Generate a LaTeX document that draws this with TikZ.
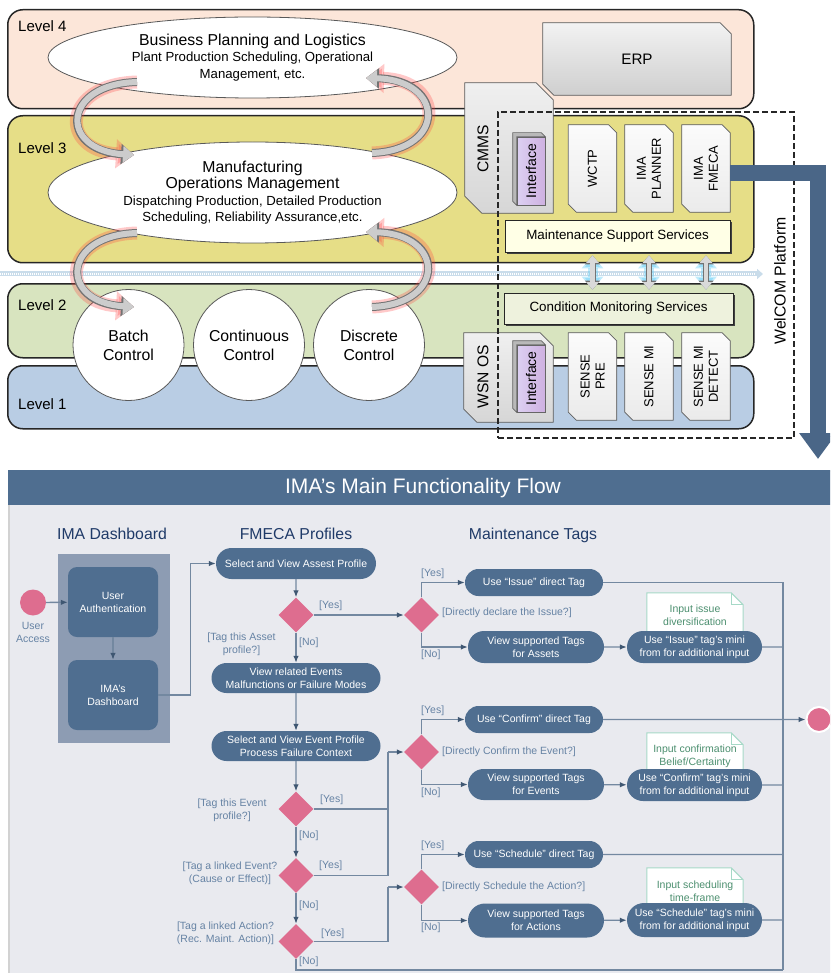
\documentclass[tikz,border=0pt]{standalone}
\usepackage{fontspec}
\setmainfont{Liberation Sans}
\usetikzlibrary{positioning}
\usetikzlibrary{arrows.meta}
\usetikzlibrary{shapes.geometric}
\usetikzlibrary{shapes.misc}
\usetikzlibrary{shadows}
\usetikzlibrary{calc}

\definecolor{lvfour}{HTML}{FCE6D9}
\definecolor{lvthree}{HTML}{E6DE87}
\definecolor{lvtwo}{HTML}{D8E4BF}
\definecolor{lvone}{HTML}{B9CDE4}
\definecolor{steel}{HTML}{4F6E90}
\definecolor{panelbg}{HTML}{E9EAEF}
\definecolor{lanebg}{HTML}{8D9CB3}
\definecolor{pinkish}{HTML}{DE6D8F}
\definecolor{flowline}{HTML}{7388A0}
\definecolor{flowtip}{HTML}{3F5772}
\definecolor{navy}{HTML}{1F3A68}
\definecolor{guardcol}{HTML}{6683A4}
\definecolor{notetxt}{HTML}{4C8F6F}
\definecolor{noteedge}{HTML}{A6D9C7}
\definecolor{platform}{HTML}{4A6687}
\definecolor{lavender}{HTML}{DCD0F2}
\definecolor{creamy}{HTML}{FFFFE6}
\definecolor{paleg}{HTML}{EEF2DD}
\definecolor{bandblue}{HTML}{C9DCEA}

\tikzset{x=1pt, y=-1pt,
    every node/.style={inner sep=0pt},
    levelbox/.style={
        draw=black!85,
        line width=1.5pt,
        rounded corners=15pt,
        anchor=north west},
    levellabel/.style={anchor=west, font=\fontsize{15}{18}\selectfont},
    layer/.style={
        ellipse,
        draw=black!65,
        line width=0.8pt,
        fill=white,
        align=center,
        font=\fontsize{13.2}{16.5}\selectfont},
    ctrl/.style={
        circle,
        draw=black!65,
        line width=0.8pt,
        fill=white,
        align=center,
        minimum size=111pt,
        font=\fontsize{15.8}{19}\selectfont},
    loopback/.style={
        draw=gray!40,
        line width=6pt,
        -{Triangle[length=5pt 1,width=6pt 1.7]},
        preaction={draw=red!75, line width=13pt, opacity=0.28},
        preaction={draw=black!55, line width=8pt}},
    swap/.style={
        draw=gray!30,
        line width=4.5pt,
        {Triangle[length=3pt 1,width=5pt 1.6]}-{Triangle[length=3pt 1,width=5pt 1.6]},
        preaction={draw=cyan!70, line width=10pt, opacity=0.35},
        preaction={draw=black!55, line width=6pt}},
    shell/.style={minimum width=48pt, minimum height=87pt},
    cutbox/.style={draw=black!60, line width=0.7pt},
    rottext/.style={rotate=90, align=center, font=\fontsize{13}{15}\selectfont},
    iface/.style={
        draw=black!60,
        line width=0.6pt,
        left color=lavender,
        right color=lavender!85!violet,
        minimum width=28pt},
    service/.style={
        draw=black!85,
        line width=0.8pt,
        font=\fontsize{13.4}{16}\selectfont,
        drop shadow={shadow xshift=2pt, shadow yshift=-2pt, fill=black!75, opacity=1}},
    pill/.style={
        rounded rectangle,
        fill=steel,
        text=white,
        align=center,
        font=\fontsize{10.5}{13}\selectfont},
    roundbox/.style={
        rounded corners=9pt,
        fill=steel,
        text=white,
        align=center,
        minimum width=90pt,
        minimum height=70pt,
        font=\fontsize{10.5}{13}\selectfont},
    decision/.style={diamond, fill=pinkish, minimum width=35pt, minimum height=35pt},
    guard/.style={text=guardcol, font=\fontsize{10.5}{13}\selectfont},
    heading/.style={text=navy, font=\fontsize{15.8}{18}\selectfont},
    note/.style={align=center, text=notetxt, minimum width=96pt, font=\fontsize{10.5}{13}\selectfont},
    flow/.style={
        draw=flowline,
        line width=1.3pt,
        >={Latex[length=7pt,width=5.5pt,color=flowtip]}}}

\begin{document}
\begin{tikzpicture}
        \useasboundingbox (0,0) rectangle (830,973);
        \clip (0,0) rectangle (830,973);

        % automation pyramid
        \node[levelbox, fill=lvfour, minimum width=746pt, minimum height=99pt] (lvfour) at (7,9) {};
        \node[levelbox, fill=lvthree, minimum width=746pt, minimum height=147pt] (lvthree) at (7,115) {};
        \node[levelbox, fill=lvtwo, minimum width=746pt, minimum height=74pt] (lvtwo) at (7,283) {};
        \node[levelbox, fill=lvone, minimum width=746pt, minimum height=63pt] (lvone) at (7,365) {};
        \node[levellabel] (lvfourtxt) at (18,26) {Level 4};
        \node[levellabel] (lvthreetxt) at (18,148) {Level 3};
        \node[levellabel] (lvtwotxt) at (18,305) {Level 2};
        \node[levellabel] (lvonetxt) at (18,404) {Level 1};

        \coordinate (bandstart) at (0,274);
        \coordinate (bandend) at (763,274);
        \draw[draw=bandblue, line width=5pt, -{Triangle[length=6pt,width=10pt]}] (bandstart) -- (bandend);
        \draw[white, line width=1.2pt, dash pattern=on 0.8pt off 1.2pt] (bandstart) -- ([xshift=-8pt]bandend);

        \node[layer, minimum width=409pt, minimum height=81pt] (business) at (252.5,57.5)
            {{\fontsize{15.8}{17}\selectfont Business Planning and Logistics}\\Plant Production Scheduling, Operational\\Management, etc.};
        \node[layer, minimum width=409pt, minimum height=101pt] (mom) at (252.5,192.5)
            {{\fontsize{15.8}{18}\selectfont Manufacturing}\\{\fontsize{15.8}{18}\selectfont Operations Management}\\Dispatching Production, Detailed Production\\Scheduling, Reliability Assurance,etc.};
        \node[ctrl] (batch) at (128.5,345) {Batch\\Control};
        \node[ctrl] (continuous) at (249,345) {Continuous\\Control};
        \node[ctrl] (discrete) at (369,345) {Discrete\\Control};

        \coordinate (downa) at (137,82);
        \coordinate (downb) at (134,155);
        \coordinate (upa) at (372,153);
        \coordinate (upb) at (366,78);
        \coordinate (downc) at (137,233);
        \coordinate (downd) at (134,307);
        \coordinate (upc) at (372,307);
        \coordinate (upd) at (366,232);
        \draw[loopback] (downa) .. controls (62,84) and (58,150) .. (downb);
        \draw[loopback] (upa) .. controls (447,150) and (445,80) .. (upb);
        \draw[loopback] (downc) .. controls (62,235) and (58,302) .. (downd);
        \draw[loopback] (upc) .. controls (447,304) and (445,234) .. (upd);

        % systems
        \node[minimum width=188pt, minimum height=72pt] (erp) at (637,59) {};
        \node[minimum width=88pt, minimum height=130pt] (cmms) at (509,148) {};
        \node[minimum width=89pt, minimum height=89pt] (wsnos) at (508.5,377.5) {};
        \node[shell] (wctp) at (592.5,168.5) {};
        \node[shell] (planner) at (649,168.5) {};
        \node[shell] (fmeca) at (706,168.5) {};
        \node[shell] (sensepre) at (592.5,376.5) {};
        \node[shell] (sensemi) at (649,376.5) {};
        \node[shell] (detect) at (706,376.5) {};
        \foreach \b/\c/\lite/\dark in {erp/11/gray!10/gray!38, cmms/17/gray!12/gray!32, wsnos/13/gray!12/gray!32,
                wctp/8/gray!3/gray!16, planner/8/gray!3/gray!16, fmeca/8/gray!3/gray!16,
                sensepre/8/gray!3/gray!16, sensemi/8/gray!3/gray!16, detect/8/gray!3/gray!16} {
            \filldraw[cutbox, top color=\lite, bottom color=\dark]
                (\b.north west) -- ([xshift=-\c]\b.north east) -- ([yshift=-\c]\b.north east)
                -- (\b.south east) -- ([xshift=\c]\b.south west) -- ([yshift=\c]\b.south west) -- cycle;
        }
        \node[font=\fontsize{15.2}{18}\selectfont] (erptxt) at (erp) {ERP};
        \node[rottext, font=\fontsize{15.6}{18}\selectfont] (cmmstxt) at (483,149) {CMMS};
        \node[rottext, font=\fontsize{15.6}{18}\selectfont] (wsnostxt) at (483,377) {WSN OS};

        \node[iface, minimum height=68pt] (ifcmms) at (531,171) {};
        \node[iface, minimum height=67pt] (ifwsn) at (531,378.5) {};
        \foreach \f in {ifcmms,ifwsn} {
            \filldraw[draw=black!60, line width=0.6pt, fill=gray!55]
                (\f.south west) -- ++(-4,-4) -- ([xshift=-4pt,yshift=4pt]\f.north west)
                -- ([xshift=-4pt,yshift=4pt]\f.north east) -- (\f.north east) -- (\f.north west) -- cycle;
            \node[rottext, font=\fontsize{14}{16}\selectfont] (\f txt) at (\f) {Interface};
        }

        \node[rottext] (wctptxt) at (wctp) {WCTP};
        \node[rottext] (plannertxt) at (planner) {IMA\\PLANNER};
        \node[rottext] (fmecatxt) at (fmeca) {IMA\\FMECA};
        \node[rottext] (sensepretxt) at (sensepre) {SENSE\\PRE};
        \node[rottext] (sensemitxt) at (sensemi) {SENSE MI};
        \node[rottext] (detecttxt) at (detect) {SENSE MI\\DETECT};

        \node[service, fill=creamy, minimum width=225pt, minimum height=32pt] (mss) at (617.5,236) {Maintenance Support Services};
        \node[service, fill=paleg, minimum width=229pt, minimum height=31pt] (cms) at (618.5,308.5) {Condition Monitoring Services};
        \draw[swap] ([yshift=-3pt]mss.south -| wctp) -- ([yshift=3pt]cms.north -| wctp);
        \draw[swap] ([yshift=-3pt]mss.south -| planner) -- ([yshift=3pt]cms.north -| planner);
        \draw[swap] ([yshift=-3pt]mss.south -| fmeca) -- ([yshift=3pt]cms.north -| fmeca);

        \node[draw=black!85, line width=1.8pt, dash pattern=on 6pt off 3pt, anchor=north west,
            minimum width=296pt, minimum height=326pt] (welcom) at (497,111) {};
        \node[rottext, font=\fontsize{15.8}{18}\selectfont] (welcomtxt) at (780,281) {WelCOM Platform};

        \coordinate (flowin) at (818,459);
        \draw[draw=platform, line width=16pt, -{Triangle[length=26pt,width=36pt]}] ([yshift=-5pt]fmeca.east) -| (flowin);

        % functionality flow
        \node[anchor=north west, fill=panelbg, draw=gray!35, line width=1.5pt,
            minimum width=840pt, minimum height=520pt] (panel) at (8,470) {};
        \node[anchor=north west, fill=steel, minimum width=840pt, minimum height=35pt] (titlebar) at (8,470) {};
        \node[text=white, font=\fontsize{21}{24}\selectfont] (title) at (423,488) {IMA’s Main Functionality Flow};
        \node[heading] (dashhead) at (112,534) {IMA Dashboard};
        \node[heading] (fmecahead) at (296,534) {FMECA Profiles};
        \node[heading] (taghead) at (533,535) {Maintenance Tags};

        \node[anchor=north west, fill=lanebg, minimum width=112pt, minimum height=189pt] (lane) at (58,554) {};
        \node[roundbox] (auth) at (113,602) {User\\Authentication};
        \node[roundbox] (dashb) at (113,695) {IMA’s\\Dashboard};
        \node[circle, fill=pinkish, minimum size=26pt] (start) at (33,602.5) {};
        \node[guard, align=center] (useraccess) at (33,632.5) {User\\Access};

        \node[pill, minimum width=160pt, minimum height=31pt] (assetprof) at (296,563.5) {Select and View Assest Profile};
        \node[decision] (qasset) at (296,615) {};
        \node[pill, minimum width=169pt, minimum height=30pt] (relevents) at (296,678) {View related Events\\Malfunctions or Failure Modes};
        \node[pill, minimum width=169pt, minimum height=30pt] (eventprof) at (296,746) {Select and View Event Profile\\Process Failure Context};
        \node[decision] (qevent) at (296,809) {};
        \node[decision] (qlinkevent) at (296,875.5) {};
        \node[decision] (qlinkaction) at (296,941.5) {};

        \node[decision] (qissue) at (421.5,615) {};
        \node[decision] (qconfirm) at (421.5,752) {};
        \node[decision] (qschedule) at (421.5,887) {};

        \node[note, minimum height=45pt] (issuenote) at (695,615.5) {};
        \node[note, minimum height=46pt] (confirmnote) at (695,756) {};
        \node[note, minimum height=47pt] (schedulenote) at (695,891.5) {};
        \foreach \n in {issuenote,confirmnote,schedulenote} {
            \filldraw[draw=noteedge, fill=white, line width=1pt]
                (\n.south west) -- (\n.north west) -- ([xshift=-12pt]\n.north east)
                -- ([yshift=-12pt]\n.north east) -- (\n.south east);
            \draw[draw=noteedge, line width=1pt]
                ([xshift=-12pt]\n.north east) -- ([xshift=-12pt,yshift=-12pt]\n.north east) -- ([yshift=-12pt]\n.north east);
        }
        \node[note] (issuenotetxt) at (issuenote) {Input issue\\diversification};
        \node[note] (confirmnotetxt) at (confirmnote) {Input confirmation\\Belief/Certainty};
        \node[note] (schedulenotetxt) at (schedulenote) {Input scheduling\\time-frame};

        \node[pill, minimum width=138pt, minimum height=27pt] (issuetag) at (534,582.5) {Use “Issue” direct Tag};
        \node[pill, minimum width=136pt, minimum height=32pt] (assettags) at (536,647) {View supported Tags\\for Assets};
        \node[pill, minimum width=135pt, minimum height=32pt] (issuemini) at (694.5,647) {Use “Issue” tag’s mini\\from for additional input};
        \node[pill, minimum width=138pt, minimum height=27pt] (confirmtag) at (534,719.5) {Use “Confirm” direct Tag};
        \node[pill, minimum width=136pt, minimum height=31pt] (eventtags) at (536,784.5) {View supported Tags\\for Events};
        \node[pill, minimum width=135pt, minimum height=32pt] (confirmmini) at (694.5,785) {Use “Confirm” tag’s mini\\from for additional input};
        \node[pill, minimum width=138pt, minimum height=27pt] (scheduletag) at (534,854.5) {Use “Schedule” direct Tag};
        \node[pill, minimum width=136pt, minimum height=34pt] (actiontags) at (536,920.5) {View supported Tags\\for Actions};
        \node[pill, minimum width=135pt, minimum height=34pt] (schedulemini) at (694.5,920) {Use “Schedule” tag’s mini\\from for additional input};
        \node[circle, fill=pinkish, draw=white, line width=2pt, minimum size=25pt] (finish) at (819,719.5) {};

        \node[guard, anchor=west] (yasset) at (319,606) {[Yes]};
        \node[guard, anchor=west] (nasset) at (299,643) {[No]};
        \node[guard, align=center] (tagasset) at (241.5,644) {[Tag this Asset\\profile?]};
        \node[guard, anchor=west] (yevent) at (320,800) {[Yes]};
        \node[guard, anchor=west] (nevent) at (299,836) {[No]};
        \node[guard, align=center] (tagevent) at (232,810) {[Tag this Event\\profile?]};
        \node[guard, anchor=west] (ylinkevent) at (319,866) {[Yes]};
        \node[guard, anchor=west] (nlinkevent) at (299,906) {[No]};
        \node[guard, align=center] (taglinkevent) at (230,873.5) {[Tag a linked Event?\\(Cause or Effect)]};
        \node[guard, anchor=west] (ylinkaction) at (321,934) {[Yes]};
        \node[guard, anchor=west] (nlinkaction) at (299,962) {[No]};
        \node[guard, align=center] (taglinkaction) at (225.5,933) {[Tag a linked Action?\\(Rec. Maint. Action)]};
        \node[guard, anchor=west] (yissue) at (421,574) {[Yes]};
        \node[guard, anchor=west] (nissue) at (421,655) {[No]};
        \node[guard, anchor=west] (askissue) at (442,613) {[Directly declare the Issue?]};
        \node[guard, anchor=west] (yconfirm) at (421,711) {[Yes]};
        \node[guard, anchor=west] (nconfirm) at (421,793) {[No]};
        \node[guard, anchor=west] (askconfirm) at (442,752) {[Directly Confirm the Event?]};
        \node[guard, anchor=west] (yschedule) at (421,846) {[Yes]};
        \node[guard, anchor=west] (nschedule) at (421,928) {[No]};
        \node[guard, anchor=west] (askschedule) at (442,887) {[Directly Schedule the Action?]};

        \coordinate (jconfirm) at (388,752);
        \coordinate (jschedule) at (388,887);
        \coordinate (mergebot) at (783,970);

        \draw[flow,->] (start) -- (auth);
        \draw[flow,->] (auth) -- (dashb);
        \draw[flow,->] (dashb.east) -- ++(32,0) |- (assetprof);
        \draw[flow,->] (assetprof) -- (qasset);
        \draw[flow,->] (qasset) -- (qissue);
        \draw[flow,->] (qasset) -- (relevents);
        \draw[flow,->] (relevents) -- (eventprof);
        \draw[flow,->] (eventprof) -- (qevent);
        \draw[flow,->] (qevent) -- (qlinkevent);
        \draw[flow,->] (qlinkevent) -- (qlinkaction);
        \draw[flow] (qevent) -| (jconfirm);
        \draw[flow] (qlinkevent) -| (jconfirm);
        \draw[flow,->] (jconfirm) -- (qconfirm);
        \draw[flow] (qlinkaction) -| (jschedule);
        \draw[flow,->] (jschedule) -- (qschedule);
        \draw[flow] (qlinkaction) |- (mergebot);

        \draw[flow,->] (qissue) |- (issuetag);
        \draw[flow,->] (qissue) |- (assettags);
        \draw[flow,->] (assettags) -- (issuemini);
        \draw[flow,->] (qconfirm) |- (confirmtag);
        \draw[flow,->] (qconfirm) |- (eventtags);
        \draw[flow,->] (eventtags) -- (confirmmini);
        \draw[flow,->] (qschedule) |- (scheduletag);
        \draw[flow,->] (qschedule) |- (actiontags);
        \draw[flow,->] (actiontags) -- (schedulemini);

        \draw[flow] (issuetag) -| (mergebot);
        \draw[flow] (issuemini) -- (issuemini -| mergebot);
        \draw[flow] (confirmmini) -- (confirmmini -| mergebot);
        \draw[flow] (scheduletag) -- (scheduletag -| mergebot);
        \draw[flow] (schedulemini) -- (schedulemini -| mergebot);
        \draw[flow,->] (confirmtag) -- (finish);
\end{tikzpicture}
\end{document}
